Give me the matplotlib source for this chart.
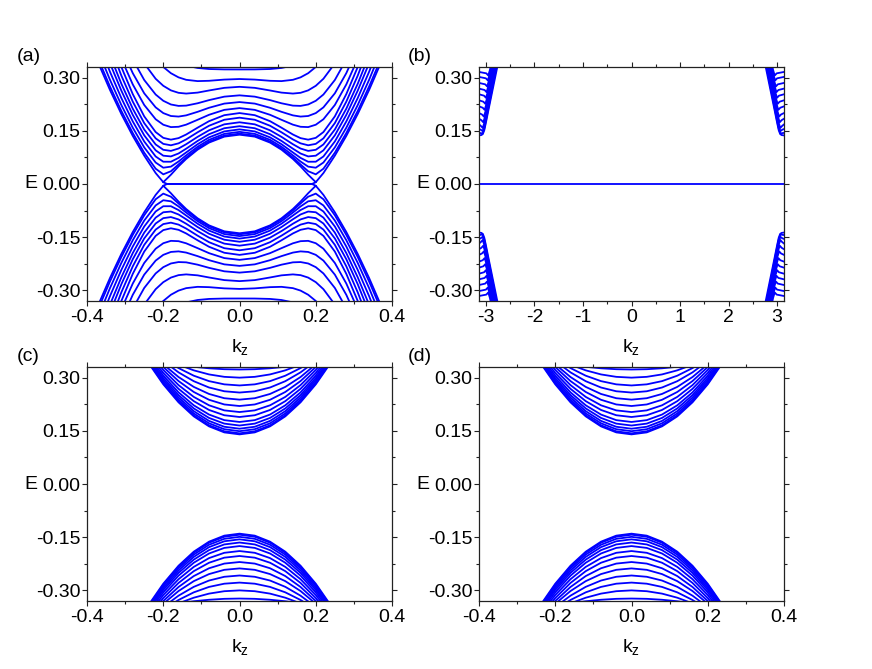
import numpy as np
import matplotlib
matplotlib.use('Agg')
import matplotlib.pyplot as plt

plt.rcParams['font.family'] = ['Liberation Sans', 'DejaVu Sans']
plt.rcParams['mathtext.fontset'] = 'custom'
plt.rcParams['mathtext.rm'] = 'Liberation Sans'
plt.rcParams['mathtext.default'] = 'regular'

# ---- panel (a): kz >= 0 half, mirrored; upper bands (lower ones are -E)
kz_a = [0, 0.04, 0.08, 0.11, 0.14, 0.16, 0.18, 0.2, 0.22, 0.25, 0.28, 0.31, 0.34, 0.37, 0.4]
bands_a = [
    [0.139, 0.1335, 0.1167, 0.0968, 0.0706, 0.0497, 0.0261, 0.0051, 0.0308, 0.0799, 0.1355, 0.1974, 0.2656, 0.340, 0.421],
    [0.142, 0.1364, 0.1196, 0.0998, 0.0744, 0.055, 0.0359, 0.0272, 0.0431, 0.0882, 0.1435, 0.206, 0.2752, 0.351, 0.4334],
    [0.147, 0.1413, 0.1245, 0.1049, 0.0806, 0.0633, 0.0489, 0.0459, 0.0605, 0.1032, 0.1586, 0.2227, 0.2942, 0.3728, 0.4583],
    [0.154, 0.1482, 0.1314, 0.1121, 0.0889, 0.0736, 0.0627, 0.0628, 0.0776, 0.1199, 0.1763, 0.2424, 0.3168, 0.399, 0.4885],
    [0.163, 0.1572, 0.1404, 0.1214, 0.0995, 0.086, 0.0777, 0.0798, 0.0949, 0.1372, 0.1948, 0.2633, 0.3408, 0.4266, 0.5204],
    [0.174, 0.1682, 0.1514, 0.1329, 0.1121, 0.1, 0.0933, 0.0964, 0.1115, 0.1536, 0.2123, 0.2828, 0.3632, 0.4526, 0.5504],
    [0.187, 0.1811, 0.1642, 0.1458, 0.1257, 0.1146, 0.1091, 0.1131, 0.1287, 0.1717, 0.2322, 0.3057, 0.3898, 0.4837, 0.5866],
    [0.2, 0.194, 0.1771, 0.1588, 0.1395, 0.1293, 0.125, 0.1301, 0.1464, 0.1907, 0.2534, 0.33, 0.4181, 0.5166, 0.6248],
    [0.214, 0.209, 0.1951, 0.181, 0.1673, 0.1613, 0.1604, 0.1671, 0.1826, 0.2228, 0.2807, 0.3531, 0.4378, 0.5333, 0.6389],
    [0.231, 0.2267, 0.2149, 0.2035, 0.1935, 0.1901, 0.1917, 0.1999, 0.2161, 0.2557, 0.3125, 0.384, 0.4684, 0.5643, 0.6704],
    [0.25, 0.2463, 0.2365, 0.2276, 0.221, 0.2202, 0.2242, 0.2346, 0.2523, 0.2933, 0.351, 0.4237, 0.5095, 0.6075, 0.7164],
    [0.274, 0.2711, 0.2637, 0.2577, 0.255, 0.2571, 0.264, 0.2769, 0.2967, 0.3401, 0.3998, 0.4743, 0.5627, 0.6634, 0.7756],
    [0.296, 0.2944, 0.291, 0.2901, 0.2938, 0.3007, 0.3124, 0.33, 0.354, 0.4028, 0.4667, 0.5452, 0.6371, 0.7417, 0.8584],
    [0.323, 0.3231, 0.3242, 0.3272, 0.334, 0.3415, 0.3521, 0.3665, 0.385, 0.4214, 0.4686, 0.5267, 0.5957, 0.675, 0.7644],
]
flat_a_kz = [-0.2, -0.19, 0.19, 0.2]
flat_a_e = [0.005, 0.0, 0.0, 0.005]

# ---- panel (b): q = distance from the zone edge (pi), upper bands
q_b = [
    [0, 0.05, 0.08, 0.11, 0.15, 0.2, 0.26, 0.32, 0.38, 0.42],
    [0, 0.036, 0.076, 0.116, 0.403],
    [0, 0.036, 0.076, 0.116, 0.392],
    [0, 0.037, 0.077, 0.117, 0.379],
    [0, 0.049, 0.089, 0.129, 0.367],
    [0, 0.061, 0.101, 0.141, 0.355],
    [0, 0.077, 0.117, 0.157, 0.343],
    [0, 0.091, 0.131, 0.171, 0.331],
    [0, 0.104, 0.144, 0.184, 0.319],
    [0, 0.116, 0.156, 0.196, 0.307],
    [0, 0.128, 0.168, 0.208, 0.295],
    [0, 0.142, 0.182, 0.222, 0.283],
    [0, 0.151, 0.191, 0.231, 0.271],
]
bands_b = [
    [0.137, 0.138, 0.141, 0.152, 0.178, 0.212, 0.252, 0.292, 0.332, 0.36],
    [0.144, 0.1435, 0.1425, 0.16, 0.36],
    [0.155, 0.153, 0.149, 0.167, 0.36],
    [0.168, 0.164, 0.158, 0.176, 0.36],
    [0.184, 0.18, 0.174, 0.192, 0.36],
    [0.2, 0.196, 0.19, 0.208, 0.36],
    [0.219, 0.215, 0.209, 0.227, 0.36],
    [0.236, 0.232, 0.226, 0.244, 0.36],
    [0.253, 0.249, 0.243, 0.261, 0.36],
    [0.269, 0.265, 0.259, 0.277, 0.36],
    [0.285, 0.281, 0.275, 0.293, 0.36],
    [0.302, 0.298, 0.292, 0.31, 0.36],
    [0.316, 0.312, 0.306, 0.324, 0.36],
]

# ---- panels (c) and (d): same trivial-gap bands
kz_cd = [0, 0.04, 0.08, 0.12, 0.16, 0.2, 0.24, 0.28]
bands_cd = [
    [0.14, 0.1456, 0.1626, 0.1908, 0.2304, 0.2812, 0.3433, 0.4168],
    [0.143, 0.1487, 0.1656, 0.1939, 0.2335, 0.2844, 0.3466, 0.4201],
    [0.149, 0.1546, 0.1713, 0.1991, 0.2381, 0.2882, 0.3495, 0.4219],
    [0.156, 0.1615, 0.178, 0.2055, 0.244, 0.2936, 0.3541, 0.4256],
    [0.165, 0.1704, 0.1864, 0.2132, 0.2507, 0.2989, 0.3578, 0.4274],
    [0.175, 0.1802, 0.1959, 0.222, 0.2585, 0.3055, 0.363, 0.4308],
    [0.189, 0.194, 0.2089, 0.2337, 0.2685, 0.3132, 0.3679, 0.4325],
    [0.203, 0.2077, 0.222, 0.2457, 0.279, 0.3217, 0.3739, 0.4356],
    [0.22, 0.2244, 0.2376, 0.2596, 0.2904, 0.33, 0.3784, 0.4356],
    [0.238, 0.242, 0.254, 0.2739, 0.3018, 0.3377, 0.3816, 0.4335],
    [0.258, 0.2616, 0.2722, 0.29, 0.3149, 0.3469, 0.386, 0.4322],
    [0.278, 0.2811, 0.2902, 0.3055, 0.327, 0.3545, 0.3881, 0.4279],
    [0.3, 0.3023, 0.3091, 0.3206, 0.3366, 0.3572, 0.3823, 0.412],
    [0.323, 0.3238, 0.3264, 0.3306, 0.3366, 0.3442, 0.3535, 0.3645],
]

y_ticks = [-0.30, -0.15, 0.00, 0.15, 0.30]
y_labels = ['-0.30', '-0.15', '0.00', '0.15', '0.30']
y_minor = [-0.225, -0.075, 0.075, 0.225]
xa_ticks = [-0.4, -0.2, 0.0, 0.2, 0.4]
xa_labels = ['-0.4', '-0.2', '0.0', '0.2', '0.4']
xa_minor = [-0.3, -0.1, 0.1, 0.3]
xb_ticks = [-3, -2, -1, 0, 1, 2, 3]
xb_labels = ['-3', '-2', '-1', '0', '1', '2', '3']
xb_minor = [-2.5, -1.5, -0.5, 0.5, 1.5, 2.5]

BLUE = '#0000ff'
LW = 1.3
FS = 14


def mirror(k, e):
    k = np.asarray(k, float)
    e = np.asarray(e, float)
    return np.concatenate([-k[::-1], k[1:]]), np.concatenate([e[::-1], e[1:]])


def style(ax, xlim, ticks, labels, minor, letter):
    ax.set_xlim(*xlim)
    ax.set_ylim(-0.33, 0.33)
    ax.set_xticks(ticks)
    ax.set_xticklabels(labels)
    ax.set_xticks(minor, minor=True)
    ax.set_yticks(y_ticks)
    ax.set_yticklabels(y_labels)
    ax.set_yticks(y_minor, minor=True)
    ax.tick_params(which='both', direction='out', top=True, right=True,
                   labelsize=FS, width=0.8, color='#222222')
    ax.tick_params(axis='x', which='both', pad=2.5)
    ax.tick_params(axis='y', which='both', pad=1.2)
    ax.tick_params(which='major', length=3.5)
    ax.tick_params(which='minor', length=2.5)
    for sp in ax.spines.values():
        sp.set_linewidth(0.9)
        sp.set_color('#222222')
    ax.set_xlabel('k$_z$', fontsize=FS, labelpad=8)
    ax.set_ylabel('E', fontsize=FS, rotation=0, ha='right', va='center')
    ax.yaxis.set_label_coords(-0.162, 0.5)
    ax.text(-0.232, 1.045, letter, transform=ax.transAxes, fontsize=FS,
            ha='left', va='center')


fig = plt.figure(figsize=(8.72, 6.69), dpi=100)
w, h = 0.3498, 0.3498
ax_a = fig.add_axes([0.0998, 0.5501, w, h])
ax_b = fig.add_axes([0.5493, 0.5501, w, h])
ax_c = fig.add_axes([0.0998, 0.1016, w, h])
ax_d = fig.add_axes([0.5493, 0.1016, w, h])

# (a)
for band in bands_a:
    kk, ee = mirror(kz_a, band)
    ax_a.plot(kk, ee, color=BLUE, lw=LW)
    ax_a.plot(kk, -ee, color=BLUE, lw=LW)
ax_a.plot(flat_a_kz, flat_a_e, color=BLUE, lw=LW)
ax_a.plot(flat_a_kz, -np.asarray(flat_a_e), color=BLUE, lw=LW)
style(ax_a, (-0.4, 0.4), xa_ticks, xa_labels, xa_minor, '(a)')

# (b)
for q, band in zip(q_b, bands_b):
    q = np.asarray(q)
    e = np.asarray(band)
    for kk in (np.pi - q, q - np.pi):
        ax_b.plot(kk, e, color=BLUE, lw=LW)
        ax_b.plot(kk, -e, color=BLUE, lw=LW)
ax_b.plot([-np.pi, np.pi], [0, 0], color=BLUE, lw=LW)
style(ax_b, (-np.pi, np.pi), xb_ticks, xb_labels, xb_minor, '(b)')

# (c), (d)
for ax, letter in ((ax_c, '(c)'), (ax_d, '(d)')):
    for band in bands_cd:
        kk, ee = mirror(kz_cd, band)
        ax.plot(kk, ee, color=BLUE, lw=LW)
        ax.plot(kk, -ee, color=BLUE, lw=LW)
    style(ax, (-0.4, 0.4), xa_ticks, xa_labels, xa_minor, letter)

fig.savefig('out.png', dpi=100)
